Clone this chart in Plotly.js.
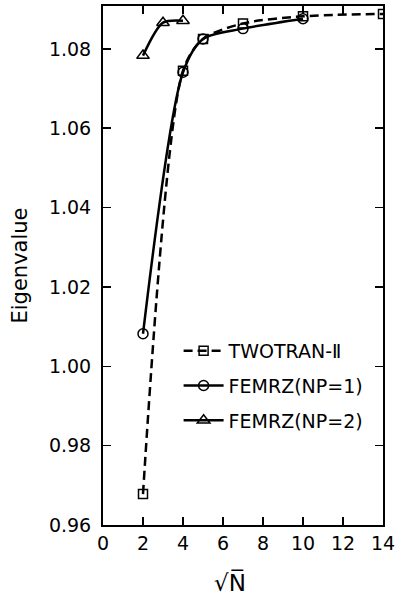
<!DOCTYPE html>
<html>
<head>
<meta charset="utf-8">
<script src="https://cdn.plot.ly/plotly-3.0.1.min.js"></script>
<style>html,body{margin:0;padding:0;background:#fff;}#chart{width:395px;height:600px;}</style>
</head>
<body>
<div id="chart"></div>
<script>
// Data
const twotranX = [2, 4, 5, 7, 10, 14];
const twotranY = [0.9678, 1.0745, 1.0825, 1.0864, 1.0882, 1.0888];
const np1X = [2, 4, 5, 7, 10];
const np1Y = [1.0082, 1.0741, 1.0825, 1.0851, 1.0876];
const np2X = [2, 3, 4];
const np2Y = [1.0783, 1.0866, 1.0871];
const seriesNames = ['TWOTRAN-Ⅱ', 'FEMRZ(NP=1)', 'FEMRZ(NP=2)'];
const xTicks = [0, 2, 4, 6, 8, 10, 12, 14];
const yTicks = [0.96, 0.98, 1.00, 1.02, 1.04, 1.06, 1.08];
const yTickText = ['0.96', '0.98', '1.00', '1.02', '1.04', '1.06', '1.08'];

const FONT = 'DejaVu Sans, Arial, sans-serif';
const line = {color: '#000', width: 2.5, shape: 'spline', smoothing: 0.8};

const traces = [
  {x: twotranX, y: twotranY, name: seriesNames[0], legendgroup: 'a', mode: 'lines+markers',
   line: Object.assign({}, line, {dash: '9px,5px'}),
   marker: {symbol: 'square-open', size: 9, color: '#000', line: {width: 1.5, color: '#000'}}},
  {x: np1X, y: np1Y, name: seriesNames[1], legendgroup: 'b', mode: 'lines+markers',
   line: Object.assign({}, line),
   marker: {symbol: 'circle-open', size: 10, color: '#000', line: {width: 1.5, color: '#000'}}},
  {x: np2X, y: np2Y, name: seriesNames[2], legendgroup: 'c', mode: 'lines+markers',
   line: Object.assign({}, line),
   marker: {symbol: 'triangle-up-open', size: 11, color: '#000', line: {width: 1.5, color: '#000'}}}
];

const axisCommon = {
  showline: true, linecolor: '#000', linewidth: 2, mirror: 'ticks',
  ticks: 'inside', ticklen: 8, tickwidth: 1.5, tickcolor: '#000',
  showgrid: false, zeroline: false, ticklabeloverflow: 'allow',
  tickfont: {family: FONT, size: 19, color: '#000'}
};

const layout = {
  width: 395, height: 600,
  margin: {l: 103, r: 12, t: 6, b: 75},
  paper_bgcolor: '#fff', plot_bgcolor: '#fff',
  showlegend: true,
  legend: {x: 0.27, y: 0.372, xanchor: 'left', yanchor: 'top',
           bgcolor: 'rgba(0,0,0,0)', borderwidth: 0,
           font: {family: FONT, size: 19, color: '#000'},
           traceorder: 'grouped', tracegroupgap: 7, itemwidth: 40},
  xaxis: Object.assign({}, axisCommon, {
    range: [0, 14], tickvals: xTicks, ticktext: xTicks.map(String)
  }),
  yaxis: Object.assign({}, axisCommon, {
    range: [0.96, 1.0908], tickvals: yTicks, ticktext: yTickText,
    ticklabelstandoff: 6,
    title: {text: 'Eigenvalue', font: {family: FONT, size: 21, color: '#000'}, standoff: 16}
  }),
  annotations: [{
    text: '√N̅', xref: 'paper', yref: 'paper', x: 0.454, y: 0,
    xanchor: 'center', yanchor: 'top', yshift: -42, showarrow: false,
    font: {family: FONT, size: 23, color: '#000'}
  }]
};

Plotly.newPlot('chart', traces, layout, {displayModeBar: false, staticPlot: true});
</script>
</body>
</html>
